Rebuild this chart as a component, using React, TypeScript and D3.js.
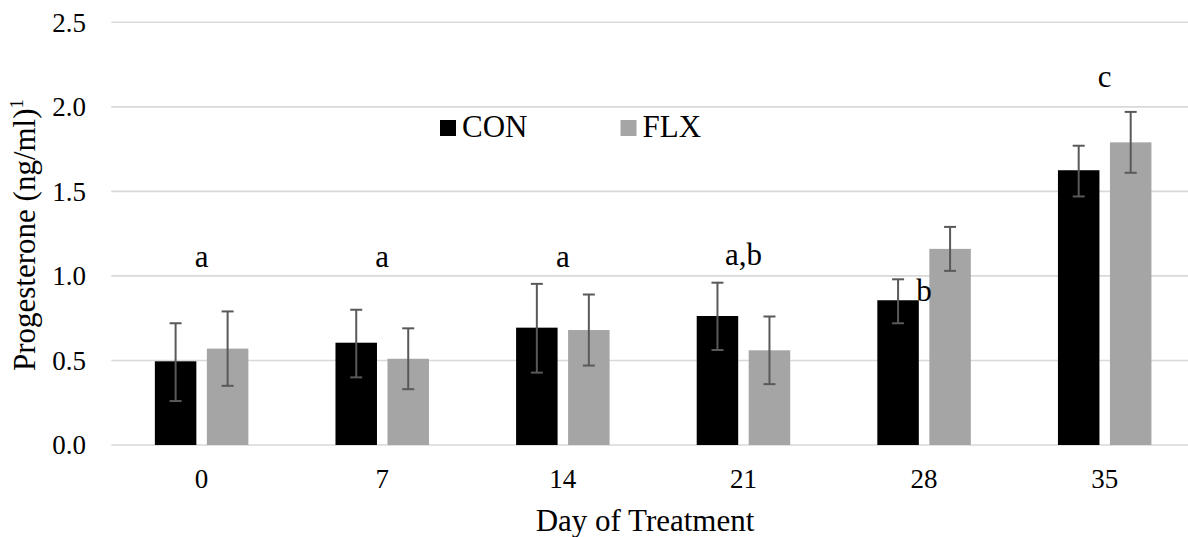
import React from "react";
import * as d3 from "d3";

const days = ["0", "7", "14", "21", "28", "35"];
const series = ["CON", "FLX"];
const conMean = [0.495, 0.605, 0.694, 0.763, 0.856, 1.625];
const conUpper = [0.72, 0.8, 0.953, 0.96, 0.98, 1.77];
const conLower = [0.26, 0.4, 0.428, 0.562, 0.72, 1.47];
const flxMean = [0.57, 0.51, 0.68, 0.56, 1.16, 1.79];
const flxUpper = [0.79, 0.69, 0.89, 0.76, 1.29, 1.97];
const flxLower = [0.35, 0.33, 0.47, 0.36, 1.03, 1.61];
const letters = ["a", "a", "a", "a,b", "b", "c"];
const letterLevel = [1.05, 1.05, 1.05, 1.065, 0.85, 2.12];
const yTicks = [0, 0.5, 1.0, 1.5, 2.0, 2.5];

const W = 1188;
const H = 537;
const FONT = '"Liberation Serif", "DejaVu Serif", serif';
const colors = ["#000000", "#a5a5a5"];

export default function App() {
  const x = d3.scaleBand<string>().domain(days).range([111.3, 1195]).paddingInner(0).paddingOuter(0);
  const y = d3.scaleLinear().domain([0, 2.5]).range([445, 22.3]);
  const means = [conMean, flxMean];
  const uppers = [conUpper, flxUpper];
  const lowers = [conLower, flxLower];
  const barW = 41.5;
  const gap = 10.5;
  const offsets = [-(gap / 2) - barW, gap / 2];
  const capW = 12;
  const ts = { fontFamily: FONT };

  return (
    <svg width={W} height={H} style={{ position: "absolute", left: 0, top: 0, background: "#fff", fontFamily: FONT }}>
      <rect x={0} y={0} width={W} height={H} fill="#fff" />
      {yTicks.map((t) => (
        <g key={t}>
          <line x1={111.3} x2={1195} y1={y(t)} y2={y(t)} stroke="#d9d9d9" strokeWidth={1.6} />
          <text x={86} y={y(t)} dy="0.35em" textAnchor="end" fontSize={27} fill="#000" style={ts}>
            {d3.format(".1f")(t)}
          </text>
        </g>
      ))}
      {days.map((d, i) => {
        const cx = (x(d) as number) + x.bandwidth() / 2;
        return (
          <g key={d}>
            {series.map((s, k) => {
              const bx = cx + offsets[k];
              const v = means[k][i];
              const ex = bx + barW / 2;
              return (
                <g key={s}>
                  <rect x={bx} y={y(v)} width={barW} height={y(0) - y(v)} fill={colors[k]} />
                  <line x1={ex} x2={ex} y1={y(uppers[k][i])} y2={y(lowers[k][i])} stroke="#595959" strokeWidth={2} />
                  <line x1={ex - capW / 2} x2={ex + capW / 2} y1={y(uppers[k][i])} y2={y(uppers[k][i])} stroke="#595959" strokeWidth={2} />
                  <line x1={ex - capW / 2} x2={ex + capW / 2} y1={y(lowers[k][i])} y2={y(lowers[k][i])} stroke="#595959" strokeWidth={2} />
                </g>
              );
            })}
            <text x={cx} y={487.5} textAnchor="middle" fontSize={27} fill="#000" style={ts}>
              {d}
            </text>
            <text x={cx} y={y(letterLevel[i])} textAnchor="middle" fontSize={31} fill="#000" style={ts}>
              {letters[i]}
            </text>
          </g>
        );
      })}
      <text x={645} y={531} textAnchor="middle" fontSize={31} fill="#000" style={ts}>
        Day of Treatment
      </text>
      <text transform={`translate(35,235) rotate(-90)`} textAnchor="middle" fontSize={31} fill="#000" style={ts}>
        Progesterone (ng/ml)<tspan fontSize={19} dy={-12}>1</tspan>
      </text>
      {series.map((s, k) => {
        const lx = [440, 620.5][k];
        return (
          <g key={s}>
            <rect x={lx} y={120} width={16} height={16} fill={colors[k]} />
            <text x={lx + 22} y={137} fontSize={31} fill="#000" style={ts}>
              {s}
            </text>
          </g>
        );
      })}
    </svg>
  );
}
